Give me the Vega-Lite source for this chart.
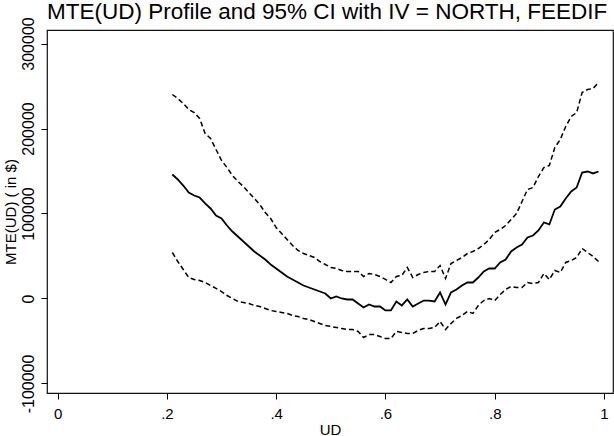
{
  "$schema": "https://vega.github.io/schema/vega-lite/v6.json",
  "width": 566,
  "height": 363,
  "autosize": "none",
  "padding": {"left": 47, "top": 30, "right": 1, "bottom": 43},
  "background": "white",
  "config": {
    "view": {"stroke": "#111", "strokeWidth": 1.2},
    "font": "Liberation Sans"
  },
  "title": {
    "text": "MTE(UD) Profile and 95% CI with IV = NORTH, FEEDIF",
    "anchor": "start",
    "frame": "group",
    "fontSize": 22.5,
    "font": "Liberation Sans",
    "fontWeight": "normal",
    "color": "#000",
    "offset": 0,
    "dy": 7
  },
  "data": {
    "values": [
      {"ud": 0.21, "lo": 54100, "mte": 145900, "hi": 240000},
      {"ud": 0.22, "lo": 43500, "mte": 140000, "hi": 235300},
      {"ud": 0.23, "lo": 34100, "mte": 132900, "hi": 229400},
      {"ud": 0.24, "lo": 24700, "mte": 124700, "hi": 222400},
      {"ud": 0.25, "lo": 22400, "mte": 121200, "hi": 218800},
      {"ud": 0.26, "lo": 21200, "mte": 118800, "hi": 211800},
      {"ud": 0.27, "lo": 18800, "mte": 111800, "hi": 194100},
      {"ud": 0.28, "lo": 15300, "mte": 105900, "hi": 188200},
      {"ud": 0.29, "lo": 11800, "mte": 97600, "hi": 175300},
      {"ud": 0.30, "lo": 8200, "mte": 94100, "hi": 162400},
      {"ud": 0.31, "lo": 3500, "mte": 85900, "hi": 154100},
      {"ud": 0.32, "lo": 0, "mte": 78800, "hi": 144700},
      {"ud": 0.33, "lo": -3500, "mte": 72900, "hi": 137700},
      {"ud": 0.34, "lo": -4700, "mte": 67100, "hi": 131800},
      {"ud": 0.35, "lo": -5900, "mte": 61200, "hi": 124700},
      {"ud": 0.36, "lo": -8200, "mte": 55300, "hi": 117700},
      {"ud": 0.37, "lo": -9400, "mte": 50600, "hi": 110600},
      {"ud": 0.38, "lo": -11800, "mte": 45900, "hi": 101200},
      {"ud": 0.39, "lo": -14100, "mte": 40000, "hi": 94100},
      {"ud": 0.40, "lo": -15300, "mte": 35300, "hi": 83500},
      {"ud": 0.41, "lo": -16500, "mte": 30600, "hi": 76500},
      {"ud": 0.42, "lo": -17600, "mte": 25900, "hi": 69400},
      {"ud": 0.43, "lo": -20000, "mte": 22400, "hi": 62400},
      {"ud": 0.44, "lo": -21200, "mte": 18800, "hi": 56500},
      {"ud": 0.45, "lo": -23500, "mte": 15300, "hi": 52900},
      {"ud": 0.46, "lo": -24700, "mte": 12900, "hi": 50600},
      {"ud": 0.47, "lo": -27100, "mte": 10600, "hi": 48200},
      {"ud": 0.48, "lo": -29400, "mte": 8200, "hi": 43500},
      {"ud": 0.49, "lo": -31800, "mte": 5900, "hi": 40000},
      {"ud": 0.50, "lo": -32900, "mte": 0, "hi": 36500},
      {"ud": 0.51, "lo": -34100, "mte": 2400, "hi": 35300},
      {"ud": 0.52, "lo": -35300, "mte": 0, "hi": 32900},
      {"ud": 0.53, "lo": -36500, "mte": -1200, "hi": 31800},
      {"ud": 0.54, "lo": -36500, "mte": -1200, "hi": 31800},
      {"ud": 0.55, "lo": -38800, "mte": -5900, "hi": 31800},
      {"ud": 0.56, "lo": -45900, "mte": -10600, "hi": 25900},
      {"ud": 0.57, "lo": -42400, "mte": -7100, "hi": 29400},
      {"ud": 0.58, "lo": -42400, "mte": -9400, "hi": 28200},
      {"ud": 0.59, "lo": -44700, "mte": -9400, "hi": 25900},
      {"ud": 0.60, "lo": -47100, "mte": -14100, "hi": 22400},
      {"ud": 0.61, "lo": -47100, "mte": -14100, "hi": 18800},
      {"ud": 0.62, "lo": -38800, "mte": -3500, "hi": 25900},
      {"ud": 0.63, "lo": -40000, "mte": -8200, "hi": 27100},
      {"ud": 0.64, "lo": -41200, "mte": -1200, "hi": 36500},
      {"ud": 0.65, "lo": -41200, "mte": -9400, "hi": 24700},
      {"ud": 0.66, "lo": -37600, "mte": -5900, "hi": 28200},
      {"ud": 0.67, "lo": -35300, "mte": -2400, "hi": 30600},
      {"ud": 0.68, "lo": -35300, "mte": -2400, "hi": 31800},
      {"ud": 0.69, "lo": -34100, "mte": -3500, "hi": 31800},
      {"ud": 0.70, "lo": -27100, "mte": 7100, "hi": 38800},
      {"ud": 0.71, "lo": -36500, "mte": -7100, "hi": 23500},
      {"ud": 0.72, "lo": -29400, "mte": 7100, "hi": 41200},
      {"ud": 0.73, "lo": -23500, "mte": 10600, "hi": 44700},
      {"ud": 0.74, "lo": -20000, "mte": 15300, "hi": 48200},
      {"ud": 0.75, "lo": -15300, "mte": 18800, "hi": 52900},
      {"ud": 0.76, "lo": -17600, "mte": 18800, "hi": 55300},
      {"ud": 0.77, "lo": -8200, "mte": 24700, "hi": 58800},
      {"ud": 0.78, "lo": -2400, "mte": 31800, "hi": 63500},
      {"ud": 0.79, "lo": 0, "mte": 35300, "hi": 69400},
      {"ud": 0.80, "lo": -2400, "mte": 35300, "hi": 77600},
      {"ud": 0.81, "lo": 4700, "mte": 42400, "hi": 81200},
      {"ud": 0.82, "lo": 10600, "mte": 45900, "hi": 85900},
      {"ud": 0.83, "lo": 14100, "mte": 55300, "hi": 92900},
      {"ud": 0.84, "lo": 12900, "mte": 60000, "hi": 100000},
      {"ud": 0.85, "lo": 12900, "mte": 63500, "hi": 114100},
      {"ud": 0.86, "lo": 18800, "mte": 71800, "hi": 128200},
      {"ud": 0.87, "lo": 17600, "mte": 74100, "hi": 130600},
      {"ud": 0.88, "lo": 18800, "mte": 80000, "hi": 143500},
      {"ud": 0.89, "lo": 29400, "mte": 89400, "hi": 154100},
      {"ud": 0.90, "lo": 22400, "mte": 87100, "hi": 156500},
      {"ud": 0.91, "lo": 32900, "mte": 104700, "hi": 177600},
      {"ud": 0.92, "lo": 30600, "mte": 108200, "hi": 187100},
      {"ud": 0.93, "lo": 42400, "mte": 117700, "hi": 202400},
      {"ud": 0.94, "lo": 44700, "mte": 125900, "hi": 214100},
      {"ud": 0.95, "lo": 48200, "mte": 130600, "hi": 218800},
      {"ud": 0.96, "lo": 58800, "mte": 148200, "hi": 242400},
      {"ud": 0.97, "lo": 54100, "mte": 149400, "hi": 245900},
      {"ud": 0.98, "lo": 49400, "mte": 147100, "hi": 247100},
      {"ud": 0.99, "lo": 43500, "mte": 149400, "hi": 254100}
    ]
  },
  "encoding": {
    "x": {
      "field": "ud",
      "type": "quantitative",
      "scale": {"domain": [-0.0194, 1.0165], "nice": false, "zero": false},
      "axis": {
        "title": "UD",
        "values": [0, 0.2, 0.4, 0.6, 0.8, 1],
        "labelExpr": "datum.value == 0 ? '0' : datum.value == 1 ? '1' : '.' + round(datum.value * 10)",
        "grid": false,
        "domain": false,
        "tickColor": "#000",
        "tickSize": 6,
        "tickWidth": 1,
        "labelFontSize": 15,
        "labelColor": "#000",
        "labelPadding": 7,
        "titleFontSize": 15,
        "titleFontWeight": "normal",
        "titleColor": "#000",
        "titlePadding": 1
      }
    }
  },
  "layer": [
    {
      "mark": {"type": "rule", "color": "#444", "strokeWidth": 1.2},
      "encoding": {"y": {"datum": 0}}
    },
    {
      "mark": {"type": "line", "color": "#000", "strokeWidth": 1.5, "strokeDash": [5, 3]},
      "encoding": {
        "y": {
          "field": "hi",
          "type": "quantitative",
          "scale": {"domain": [-111200, 315900], "nice": false, "zero": false},
          "axis": {
            "title": "MTE(UD) ( in $)",
            "values": [-100000, 0, 100000, 200000, 300000],
            "labelExpr": "'' + datum.value",
            "labelAngle": -90,
            "labelAlign": "center",
            "labelBaseline": "bottom",
            "grid": false,
            "domain": false,
            "tickColor": "#000",
            "tickSize": 6,
            "tickWidth": 1,
            "labelFontSize": 16,
            "labelColor": "#000",
            "labelPadding": 5,
            "titleFontSize": 15,
            "titleFontWeight": "normal",
            "titleColor": "#000",
            "titlePadding": 2
          }
        }
      }
    },
    {
      "mark": {"type": "line", "color": "#000", "strokeWidth": 1.5, "strokeDash": [5, 3]},
      "encoding": {"y": {"field": "lo", "type": "quantitative"}}
    },
    {
      "mark": {"type": "line", "color": "#000", "strokeWidth": 1.8},
      "encoding": {"y": {"field": "mte", "type": "quantitative"}}
    }
  ]
}
